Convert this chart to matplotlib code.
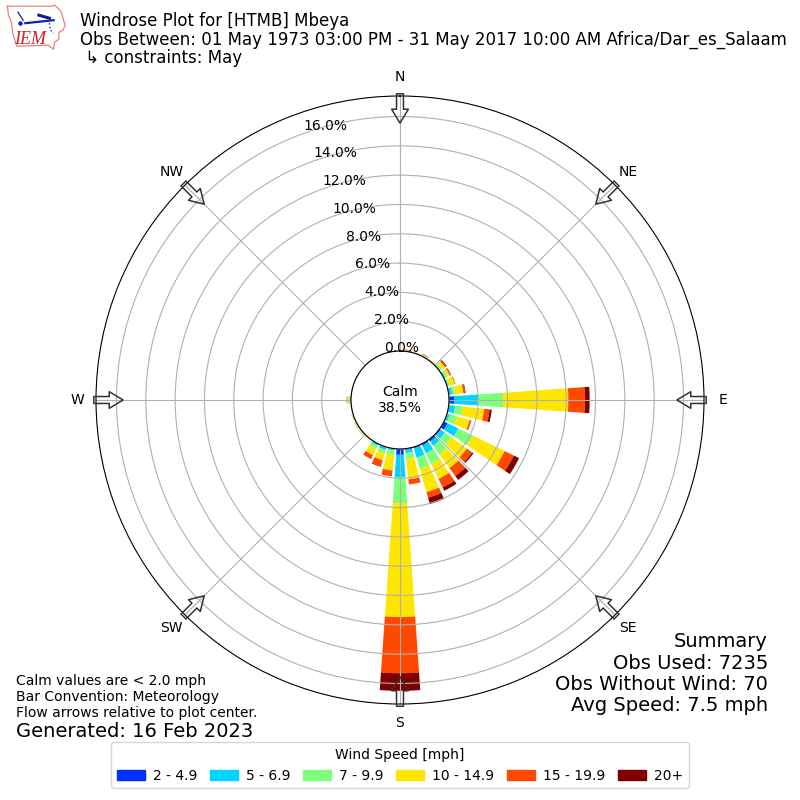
import numpy as np
import matplotlib
matplotlib.use("Agg")
import matplotlib.pyplot as plt
from matplotlib.patches import Rectangle

# percent of observations per direction bin (0, 10, ... 350 deg)
directions = list(range(0, 360, 10))
speed_labels = ["2 - 4.9", "5 - 6.9", "7 - 9.9", "10 - 14.9", "15 - 19.9", "20+"]
speed_colors = ["#0030ff", "#00d4ff", "#7dff7a", "#ffe600", "#ff4800", "#800000"]

speed_2_5 = [.01, .01, .01, .02, .01, .02, .02, .02, .03, .35, .03, .03,
             .27, .10, .16, .12, .10, .08, .40, .03, .03, .02, .01, .01,
             .01, .01, .01, .01, .01, .01, .01, .01, .01, .01, .01, .01]
speed_5_7 = [.01, .01, .01, .03, .02, .08, .10, .08, .22, 1.65, .42, .17,
             .83, .35, .36, .58, .65, .22, 1.55, .09, .17, .13, .02, .04,
             .04, .02, .01, .09, .01, .01, .01, .01, .01, .01, .01, .01]
speed_7_10 = [.01, .02, .02, .04, .03, .10, .13, .08, .20, 1.70, .52, .53,
              1.10, .55, .73, .80, .80, .40, 1.75, .33, .25, .20, .02, .05,
              .05, .04, .01, .10, .01, .01, .01, .01, .01, .01, .01, .01]
speed_10_15 = [.01, .03, .02, .04, .03, .25, .20, .37, .55, 4.44, 1.46, .88,
               2.40, 1.30, 1.15, 1.15, 1.65, 1.40, 7.77, 1.05, .48, .50, .03, .05,
               .04, .03, .01, .10, .01, .01, .01, .01, .01, .01, .01, .01]
speed_15_20 = [.01, .04, .01, .03, .01, .10, .07, .05, .12, 1.13, .37, .12,
               .70, .45, .67, .65, .40, .35, 3.83, .40, .43, .30, .01, .01,
               .01, .01, .01, .02, 0, 0, 0, 0, 0, 0, 0, 0]
speed_20 = [0, .01, 0, .01, 0, .05, .03, 0, .04, .33, .15, 0,
            .40, .10, .33, .25, .45, 0, 1.20, 0, .04, 0, 0, 0,
            0, 0, 0, 0, 0, 0, 0, 0, 0, 0, 0, 0]
speed_bins = [speed_2_5, speed_5_7, speed_7_10, speed_10_15, speed_15_20, speed_20]

compass_labels = ["N", "NE", "E", "SE", "S", "SW", "W", "NW"]
compass_angles = [0, 45, 90, 135, 180, 225, 270, 315]
ring_values = [0, 2, 4, 6, 8, 10, 12, 14, 16]

fig = plt.figure(figsize=(8, 8), dpi=100)
ax = fig.add_axes([0.12, 0.12, 0.76, 0.76], projection="polar")
ax.set_theta_zero_location("N")
ax.set_theta_direction(-1)
ax.set_rorigin(-3.34)
ax.set_ylim(0, 17.4)

theta = np.radians(directions)
width = np.radians(8)
bottom = np.zeros(len(directions))
for values, color in zip(speed_bins, speed_colors):
    ax.bar(theta, values, width=width, bottom=bottom, color=color, linewidth=0)
    bottom = bottom + np.array(values)

ax.set_xticks(np.radians(compass_angles))
ax.set_xticklabels(compass_labels, fontsize=10)
ax.tick_params(axis="x", pad=3)
ax.set_yticks(ring_values)
ax.set_yticklabels([])
ax.set_ylim(0, 17.4)

# ring labels run along a line left of north
for val in ring_values:
    r_px = 49 + val * 14.65
    ax.annotate("%.1f%%" % val, xy=(np.radians(-18.8), val), xytext=(12.2, 4.3),
                textcoords="offset points", ha="center", va="center", fontsize=10,
                annotation_clip=False)

# flow arrows pointing at the center
for ang in compass_angles:
    ax.annotate("", xy=(np.radians(ang), 15.55), xytext=(np.radians(ang), 17.55),
                annotation_clip=False,
                arrowprops=dict(arrowstyle="simple,head_length=1.0,head_width=1.2,tail_width=0.5",
                                fc="none", ec="#333333", lw=1.1, shrinkA=0, shrinkB=0,
                                mutation_scale=10))

ax.text(0.5, 0.5, "Calm\n38.5%", transform=ax.transAxes, ha="center", va="center",
        fontsize=10, multialignment="center")

fig.text(0.1, 0.985, "Windrose Plot for [HTMB] Mbeya\n"
         "Obs Between: 01 May 1973 03:00 PM - 31 May 2017 10:00 AM Africa/Dar_es_Salaam\n"
         " \u21b3 constraints: May", ha="left", va="top", fontsize=12, linespacing=1.02)

fig.text(0.02, 0.1, "Calm values are < 2.0 mph\nBar Convention: Meteorology\n"
         "Flow arrows relative to plot center.", ha="left", va="bottom", fontsize=10)
fig.text(0.02, 0.086, "Generated: 16 Feb 2023", ha="left", va="center", fontsize=14)
fig.text(0.96, 0.106, "Summary\nObs Used: 7235\nObs Without Wind: 70\nAvg Speed: 7.5 mph",
         ha="right", va="bottom", fontsize=14, linespacing=1.15)

handles = [Rectangle((0, 0), 1, 1, color=c) for c in speed_colors]
fig.legend(handles, speed_labels, title="Wind Speed [mph]", ncol=6, fontsize=10,
           title_fontsize=10, loc="lower center", bbox_to_anchor=(0.5, 0.006),
           columnspacing=0.9, handletextpad=0.6)

# rough version of the IEM logo
logo = fig.add_axes([0.008, 0.936, 0.076, 0.06])
logo.set_xlim(0, 58)
logo.set_ylim(48, 0)
logo.axis("off")
logo.plot([1, 43, 46, 52, 56, 54, 50, 50, 46, 45, 40, 10, 6, 5, 2, 1],
          [3, 3, 2, 8, 22, 27, 29, 36, 39, 46, 42, 43, 30, 20, 12, 3],
          color="#e88080", lw=0.9)
logo.plot([18, 45], [20, 17], color="#1020c0", lw=1.6)
logo.plot([11, 16], [9, 17], color="#1020c0", lw=0.9)
logo.plot([31, 41], [12, 15], color="#102080", lw=2.2)
logo.plot([41, 42, 45], [20, 27, 30], color="#1020c0", lw=1, ls=":")
logo.plot([13], [20], marker="o", ms=2.2, color="#1020c0")
logo.text(23, 36, "IEM", color="#d02020", family="Liberation Serif", style="italic",
          fontsize=13, ha="center", va="center")

fig.savefig("out.png", dpi=100)
